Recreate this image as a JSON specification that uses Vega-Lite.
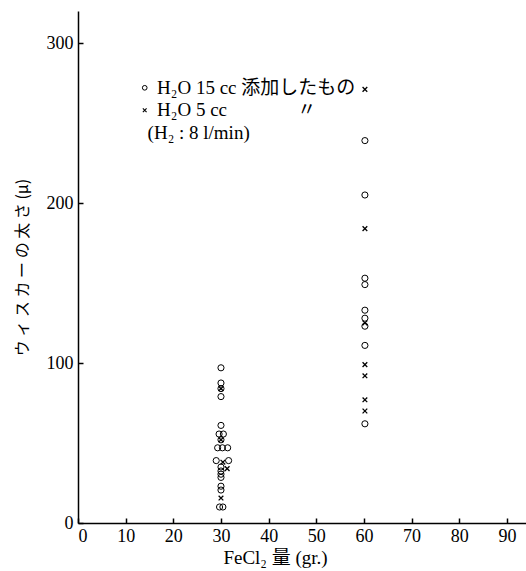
{
  "$schema": "https://vega.github.io/schema/vega-lite/v6.json",
  "width": 448,
  "height": 512,
  "autosize": {"type": "none"},
  "padding": {"left": 78, "top": 11, "right": 0, "bottom": 48},
  "background": "white",
  "config": {
    "view": {"stroke": null},
    "font": "Liberation Serif",
    "axis": {
      "grid": false,
      "domainColor": "black",
      "domainWidth": 1.5,
      "tickColor": "black",
      "tickWidth": 1.5,
      "labelColor": "black",
      "titleColor": "black",
      "labelFont": "Liberation Serif",
      "titleFont": "Liberation Serif, Noto Sans CJK JP",
      "labelFontSize": 18,
      "titleFontSize": 19,
      "titleFontWeight": "normal"
    }
  },
  "datasets": {
    "pts": [
      {"x": 30, "y": 97, "kind": "o"},
      {"x": 30, "y": 87.5, "kind": "o"},
      {"x": 30, "y": 84, "kind": "o"},
      {"x": 30, "y": 84, "kind": "x"},
      {"x": 30, "y": 79, "kind": "o"},
      {"x": 30, "y": 61, "kind": "o"},
      {"x": 29.6, "y": 55.6, "kind": "o"},
      {"x": 30.5, "y": 55.6, "kind": "o"},
      {"x": 30, "y": 52, "kind": "o"},
      {"x": 30, "y": 52, "kind": "x"},
      {"x": 29.3, "y": 47, "kind": "o"},
      {"x": 30.3, "y": 47, "kind": "o"},
      {"x": 31.4, "y": 47, "kind": "o"},
      {"x": 29.0, "y": 39, "kind": "o"},
      {"x": 31.6, "y": 39, "kind": "o"},
      {"x": 30.4, "y": 38, "kind": "x"},
      {"x": 31.3, "y": 34, "kind": "x"},
      {"x": 30, "y": 35, "kind": "o"},
      {"x": 30, "y": 32.5, "kind": "o"},
      {"x": 30, "y": 30.5, "kind": "o"},
      {"x": 30, "y": 28.5, "kind": "o"},
      {"x": 30, "y": 23, "kind": "o"},
      {"x": 30, "y": 20.6, "kind": "o"},
      {"x": 30, "y": 15.6, "kind": "x"},
      {"x": 29.7, "y": 10, "kind": "o"},
      {"x": 30.4, "y": 10, "kind": "o"},
      {"x": 60.2, "y": 271, "kind": "x"},
      {"x": 60.2, "y": 239, "kind": "o"},
      {"x": 60.2, "y": 205, "kind": "o"},
      {"x": 60.2, "y": 184, "kind": "x"},
      {"x": 60.2, "y": 153, "kind": "o"},
      {"x": 60.2, "y": 149, "kind": "o"},
      {"x": 60.2, "y": 133, "kind": "o"},
      {"x": 60.2, "y": 128, "kind": "o"},
      {"x": 60.2, "y": 125, "kind": "x"},
      {"x": 60.2, "y": 123, "kind": "o"},
      {"x": 60.2, "y": 111, "kind": "o"},
      {"x": 60.2, "y": 99, "kind": "x"},
      {"x": 60.2, "y": 92, "kind": "x"},
      {"x": 60.2, "y": 77, "kind": "x"},
      {"x": 60.2, "y": 70, "kind": "x"},
      {"x": 60.2, "y": 62, "kind": "o"}
    ],
    "legsym": [
      {"x": 14, "y": 272, "kind": "o"},
      {"x": 14, "y": 258, "kind": "x"}
    ],
    "legtxt": [
      {"x": 16.6, "y": 272, "label": "H₂O 15 cc 添加したもの"},
      {"x": 16.6, "y": 258, "label": "H₂O   5 cc"},
      {"x": 46, "y": 258, "label": "〃"},
      {"x": 14.6, "y": 244, "label": "(H₂ : 8 l/min)"}
    ]
  },
  "encoding": {
    "x": {
      "field": "x", "type": "quantitative",
      "scale": {"domain": [0, 94], "nice": false, "zero": false},
      "axis": {
        "title": "FeCl₂ 量  (gr.)",
        "values": [0, 10, 20, 30, 40, 50, 60, 70, 80, 90],
        "tickSize": -5,
        "labelPadding": 9,
        "titlePadding": 3,
        "titleX": 197,
        "titleAlign": "center"
      }
    },
    "y": {
      "field": "y", "type": "quantitative",
      "scale": {"domain": [0, 320], "nice": false},
      "axis": {
        "title": "ウ ィ ス カ ー の 太 さ  (μ)",
        "titleFont": "Noto Sans CJK JP",
        "titleFontSize": 16,
        "values": [0, 100, 200, 300],
        "tickSize": -5,
        "labelPadding": 10,
        "titlePadding": 16
      }
    }
  },
  "layer": [
    {
      "data": {"name": "pts"},
      "transform": [{"filter": "datum.kind === 'o'"}],
      "mark": {"type": "point", "shape": "circle", "filled": false, "stroke": "black", "strokeWidth": 1, "size": 38, "opacity": 1}
    },
    {
      "data": {"name": "pts"},
      "transform": [{"filter": "datum.kind === 'x'"}],
      "mark": {"type": "point", "shape": "M-1,-1L1,1M-1,1L1,-1", "filled": false, "stroke": "black", "strokeWidth": 1.3, "size": 22, "opacity": 1}
    },
    {
      "data": {"name": "legsym"},
      "transform": [{"filter": "datum.kind === 'o'"}],
      "mark": {"type": "point", "shape": "circle", "filled": false, "stroke": "black", "strokeWidth": 1, "size": 22, "opacity": 1}
    },
    {
      "data": {"name": "legsym"},
      "transform": [{"filter": "datum.kind === 'x'"}],
      "mark": {"type": "point", "shape": "M-1,-1L1,1M-1,1L1,-1", "filled": false, "stroke": "black", "strokeWidth": 1.1, "size": 14, "opacity": 1}
    },
    {
      "data": {"name": "legtxt"},
      "mark": {"type": "text", "align": "left", "baseline": "middle", "font": "Liberation Serif, Noto Sans CJK JP", "fontSize": 19, "color": "black"},
      "encoding": {"text": {"field": "label"}}
    }
  ]
}
